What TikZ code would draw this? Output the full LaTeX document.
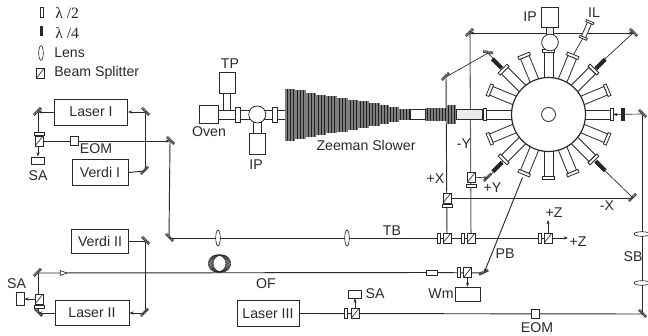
\documentclass[tikz,border=0pt]{standalone}
\usepackage{fontspec}
\setmainfont{Liberation Sans}
\newfontfamily\serifgr{Liberation Serif}
\usetikzlibrary{arrows.meta,shapes.geometric,backgrounds}
\definecolor{ink}{gray}{0.16}
\tikzset{
 lbl/.style={text=ink,font=\fontsize{10.6}{12}\selectfont,inner sep=0pt},
 devbox/.style={draw=ink,line width=.6pt,fill=white,inner sep=0pt,text=ink,font=\fontsize{10.6}{12}\selectfont,anchor=center},
 smallbox/.style={draw=ink,line width=.5pt,fill=white,inner sep=0pt},
 bsplit/.style={draw=ink,line width=.5pt,fill=white,inner sep=0pt,minimum width=6pt,minimum height=7.5pt,
   path picture={\draw[ink,line width=.5pt] (path picture bounding box.south west) -- (path picture bounding box.north east);}},
 halfw/.style={draw=ink,line width=.5pt,fill=white,inner sep=0pt,minimum width=2.4pt,minimum height=7.5pt},
 halfh/.style={draw=ink,line width=.5pt,fill=white,inner sep=0pt,minimum width=7.5pt,minimum height=2.2pt},
 quart/.style={fill=black!85,inner sep=0pt,minimum width=3pt,minimum height=10pt},
 lensv/.style={draw=ink,line width=.5pt,fill=white,ellipse,inner sep=0pt,minimum width=3.4pt,minimum height=12pt},
 lensh/.style={draw=ink,line width=.5pt,fill=white,ellipse,inner sep=0pt,minimum width=12pt,minimum height=3.4pt},
 beam/.style={draw=ink,line width=.7pt},
 thin beam/.style={draw=ink,line width=.5pt},
 tip/.style={-{Stealth[length=3.2pt,width=2.4pt]}},
 vac/.style={draw=ink,line width=.6pt,fill=white},
}
\newcommand{\mirr}[2]{%
 \begin{scope}[shift={(#1)},rotate=#2]
  \draw[black!70,line width=.7pt] (-5,0) -- (5,0);
  \draw[black!75,line width=2pt,dash pattern=on .55pt off .45pt] (-5,-1) -- (5,-1);
 \end{scope}}
\newcommand{\portp}[1]{%
 \begin{scope}[shift={(chamber)},rotate=#1]
  \draw[vac] (36,-4.6) rectangle (62,4.6);
  \draw[vac] (62,-6.2) rectangle (65,6.2);
 \end{scope}}
\begin{document}
\begin{tikzpicture}[x=.75pt,y=-.75pt]
\useasboundingbox (0,0) rectangle (648,335);
% coordinates
\coordinate (chamber) at (548.5,114.5);
\foreach \n/\p in {mA/38,mB/145}{\coordinate (\n) at (\p,112);}
\coordinate (mC) at (145,171);
\coordinate (mD) at (170,141);
\coordinate (mE) at (169,238);
\coordinate (mF) at (145,241);
\coordinate (mG) at (145,313);
\coordinate (mH) at (38,313);
\coordinate (mI) at (38,273);
\coordinate (mJ) at (484,273);
\coordinate (mK) at (642,314);
\coordinate (mL) at (642,114);
\coordinate (mM) at (470,33);
\coordinate (mN) at (633,33);
\coordinate (mO) at (446,77);
\coordinate (mP) at (488,53);
\coordinate (mQ) at (488,178);
\coordinate (mR) at (633,198);
\coordinate (tipA) at (594.5,68.5);
\coordinate (tipB) at (503,69);
\coordinate (tipC) at (594.5,160.5);
\coordinate (tipD) at (503,160.5);
\coordinate (tipE) at (613,114.5);
\coordinate (tipF) at (522.5,177.5);
\coordinate (tipG) at (573.5,54.5);
\coordinate (endZ) at (568,238);
\coordinate (upZ) at (548,220);
% legend
\node[halfw] (legA) at (41.5,12) {};
\node[quart,minimum height=7.5pt,minimum width=2.6pt] (legB) at (41.5,31) {};
\node[lensv,minimum height=11pt] (legC) at (41,53) {};
\node[bsplit] (legD) at (40.5,73) {};
\node[lbl,anchor=west,font=\serifgr\fontsize{11.8}{12}\selectfont] (txtA) at (55,13) {λ /2};
\node[lbl,anchor=west,font=\serifgr\fontsize{11.8}{12}\selectfont] (txtB) at (55,33) {λ /4};
\node[lbl,anchor=west] (txtC) at (54,53) {Lens};
\node[lbl,anchor=west] (txtD) at (54,73) {Beam Splitter};
% boxes
\node[devbox,minimum width=55pt,minimum height=19.5pt] (laserI) at (91,112) {Laser I};
\node[devbox,minimum width=42pt,minimum height=19pt] (verdiI) at (100,172.5) {Verdi I};
\node[devbox,minimum width=42.5pt,minimum height=18pt] (verdiII) at (100,241) {Verdi II};
\node[devbox,minimum width=55.5pt,minimum height=19pt] (laserII) at (92,313) {Laser II};
\node[devbox,minimum width=46.5pt,minimum height=19pt] (laserIII) at (268,313.5) {Laser III};
\node[smallbox,minimum width=10pt,minimum height=5.5pt] (saA) at (38,160.5) {};
\node[smallbox,minimum width=6pt,minimum height=10pt] (saB) at (20,299) {};
\node[smallbox,minimum width=10pt,minimum height=6pt] (saC) at (355,294) {};
\node[smallbox,minimum width=18.5pt,minimum height=10.5pt] (wm) at (467.5,294) {};
% optics
\node[bsplit] (bsA) at (39,141) {};
\node[halfh] (hwA) at (39,134) {};
\node[bsplit] (bsB) at (39,299) {};
\node[halfh] (hwB) at (39,306.5) {};
\node[smallbox,minimum width=6pt,minimum height=6.5pt] (eomA) at (74,141) {};
\node[smallbox,minimum width=6pt,minimum height=6.5pt] (eomB) at (535,313.5) {};
\node[lensv] (lensA) at (218,238) {};
\node[lensv] (lensB) at (347,238) {};
\node[bsplit] (bsC) at (447,238) {};
\node[halfw] (hwC) at (438.5,238) {};
\node[bsplit] (bsD) at (471,238) {};
\node[halfw] (hwD) at (462.5,238) {};
\node[bsplit] (bsE) at (548,238) {};
\node[halfw] (hwE) at (539.5,238) {};
\node[bsplit] (bsF) at (447,198) {};
\node[halfh] (hwF) at (447,206) {};
\node[bsplit] (bsG) at (471.5,177) {};
\node[halfh] (hwG) at (471.5,185.5) {};
\node[bsplit] (bsH) at (467.5,272.5) {};
\node[halfw] (hwH) at (459,272.5) {};
\node[bsplit] (bsI) at (355,313.5) {};
\node[halfw] (hwI) at (346,313.5) {};
\node[lensh] (lensC) at (642,234) {};
\node[lensh] (lensD) at (642,283) {};
\node[draw=ink,line width=.5pt,fill=white,isosceles triangle,isosceles triangle apex angle=40,inner sep=0pt,minimum height=5pt,minimum width=3pt] (lensE) at (62,273) {};
\draw[ink,line width=1.2pt] (423,272.5) -- (442,272.5);
\node[draw=ink,line width=.5pt,fill=white,inner sep=0pt,minimum width=8pt,minimum height=4pt] (coup) at (431.5,272.5) {};
\node[quart] (qR) at (622.7,114.5) {};
\node[quart,rotate=-45] (qA) at (600.5,64) {};
\node[quart,rotate=45] (qB) at (497,63.5) {};
\node[quart,rotate=45] (qC) at (600.5,166) {};
\node[quart,rotate=-45] (qD) at (497.5,167) {};
% beams on background layer
\begin{scope}[on background layer]
\draw[beam,tip] (laserI.west) -- (mA);
\draw[beam,tip] (mA) -- (saA.north);
\draw[beam,tip] (mB) -- (laserI.east);
\draw[beam] (mC) -- (mB);
\draw[beam] (verdiI.east) -- (mC);
\draw[beam,tip] (bsA.center) -- (mD);
\draw[beam] (mD) -- (mE);
\draw[beam,tip] (mE) -- (endZ);
\draw[beam] (verdiII.east) -- (mF);
\draw[beam] (mF) -- (mG);
\draw[beam,tip] (mG) -- (laserII.east);
\draw[beam,tip] (laserII.west) -- (mH);
\draw[beam] (mH) -- (mI);
\draw[beam,tip] (bsB.center) -- (saB.east);
\draw[beam] (mI) -- (coup.center);
\draw[beam] (coup.center) -- (mJ);
\draw[beam,tip] (bsH.center) -- (wm.north);
\draw[beam] (laserIII.east) -- (mK);
\draw[beam,tip] (bsI.center) -- (saC.south);
\draw[beam] (mK) -- (mL);
\draw[thin beam,tip] (mL) -- (tipE);
\draw[thin beam,tip] (mM) -- (mN);
\draw[thin beam,tip] (mN) -- (mM);
\draw[draw=black!60,line width=.8pt] (mM) -- (bsD.center);
\draw[beam] (bsC.center) -- (mO);
\draw[thin beam] (mO) -- (mP);
\draw[thin beam] (mP) -- (tipB);
\draw[thin beam] (mN) -- (tipA);
\draw[thin beam] (bsF.center) -- (mR);
\draw[thin beam] (mR) -- (tipC);
\draw[thin beam,tip] (bsG.center) -- (mQ);
\draw[thin beam] (mQ) -- (tipD);
\draw[beam,tip] (tipF) -- (mJ);
\draw[beam,tip] (bsE.center) -- (upZ);
\draw[thin beam] (tipG) -- (583,38);
\end{scope}
% mirrors
\mirr{mA}{45}\mirr{mB}{-45}\mirr{mC}{45}\mirr{mD}{-45}\mirr{mE}{-45}\mirr{mF}{-45}\mirr{mG}{45}
\mirr{mH}{-45}\mirr{mI}{45}\mirr{mJ}{25}\mirr{mK}{-45}\mirr{mL}{-45}\mirr{mM}{45}\mirr{mN}{-45}
\mirr{mO}{45}\mirr{mP}{-10}\mirr{mQ}{45}\mirr{mR}{45}
% fibre coil
\foreach \d in {-2.4,-1.6,-.8,0,.8,1.6,2.4}{
  \draw[ink,line width=.4pt] (219.5+\d,263.5) ellipse [x radius=8.8,y radius=8.6];}
% vacuum line: source
\draw[vac] (223.3,93) rectangle (230.7,110);
\draw[vac] (253.3,122) rectangle (261,133);
\draw[vac] (218,110) rectangle (235.7,119.3);
\draw[vac] (240.7,110) rectangle (250,119.3);
\draw[vac] (264,110) rectangle (272.7,119.3);
\draw[vac] (277.3,110) rectangle (285,119.3);
\draw[vac] (235.7,107.7) rectangle (240.7,122.3);
\draw[vac] (272.7,107.7) rectangle (277.3,122.3);
\node[devbox,minimum width=14pt,minimum height=13pt] (oven) at (208.7,114.5) {};
\node[devbox,minimum width=12pt,minimum height=15.5pt] (tpbox) at (227.3,83) {};
\node[devbox,minimum width=12pt,minimum height=15.5pt] (ipA) at (257.3,143.8) {};
\node[draw=ink,line width=.6pt,fill=white,circle,inner sep=0pt,minimum size=12.8pt] (ballA) at (257.3,114.5) {};
% Zeeman slower
\foreach \a/\b/\h in {285/295/26,295/306/24.5,306/316/22,316/326/20,326/336.7/18.3,336.7/347.7/17,347.7/357.7/15,357.7/368.3/13.5,368.3/379/11.5,379/389.3/9.5,389.3/399.3/7.5,399.3/410/5.5,425/446/6.5,446/456/9.5}{
  \fill[black!88] (\a,114.5-\h) rectangle (\b,114.5+\h);
  \pgfmathsetmacro\nx{\a+1.5}
  \foreach \s in {\a,\nx,...,\b}{\draw[black!50,line width=.14pt] (\s,114.5-\h) -- (\s,114.5+\h);}
}
\draw[vac] (410,109.5) rectangle (425,119.5);
\draw[draw=ink,line width=.6pt,fill=black!8] (456,109.5) rectangle (482,119.5);
% chamber ports
\foreach \ang in {0,22.5,45,67.5,90,112.5,135,157.5,180,202.5,225,247.5,270,292.5,315,337.5}{\portp{\ang}}
\node[draw=ink,line width=.9pt,fill=white,circle,inner sep=0pt,minimum size=55.5pt] (main) at (chamber) {};
\node[draw=ink,line width=.6pt,fill=white,circle,inner sep=0pt,minimum size=10.5pt] (innerc) at (chamber) {};
% top ion pump
\draw[draw=ink,line width=.6pt,fill=black!8] (546,27) rectangle (553.5,37);
\node[draw=ink,line width=.6pt,fill=white,circle,inner sep=0pt,minimum size=12.5pt] (ballB) at (550,42.5) {};
\node[devbox,minimum width=12.5pt,minimum height=15pt] (ipB) at (549.7,17) {};
% IL tube
\begin{scope}[shift={(586.5,30)},rotate=67]
 \draw[vac] (-8,-2.2) rectangle (8,2.2);
 \draw[vac] (-9.5,-4) rectangle (-7.5,4);
 \draw[vac] (7.5,-4) rectangle (9.5,4);
\end{scope}
% labels
\node[lbl] (tA) at (96,149) {EOM};
\node[lbl] (tB) at (38,176) {SA};
\node[lbl] (tC) at (16.5,284) {SA};
\node[lbl] (tD) at (266,284) {OF};
\node[lbl] (tE) at (392,231) {TB};
\node[lbl] (tF) at (375,294) {SA};
\node[lbl] (tG) at (537,328) {EOM};
\node[lbl] (tH) at (633,257) {SB};
\node[lbl] (tI) at (505,254) {PB};
\node[lbl] (tJ) at (441,294) {Wm};
\node[lbl] (tK) at (464,144) {-Y};
\node[lbl] (tL) at (435.5,179) {+X};
\node[lbl] (tM) at (492.5,188) {+Y};
\node[lbl] (tN) at (607,206) {-X};
\node[lbl] (tO) at (554,213) {+Z};
\node[lbl] (tP) at (578,242) {+Z};
\node[lbl] (tQ) at (530,17) {IP};
\node[lbl] (tR) at (594,13) {IL};
\node[lbl] (tS) at (230,64) {TP};
\node[lbl] (tT) at (209,132) {Oven};
\node[lbl] (tU) at (256,165) {IP};
\node[lbl] (tV) at (366,145) {Zeeman Slower};
\end{tikzpicture}
\end{document}
